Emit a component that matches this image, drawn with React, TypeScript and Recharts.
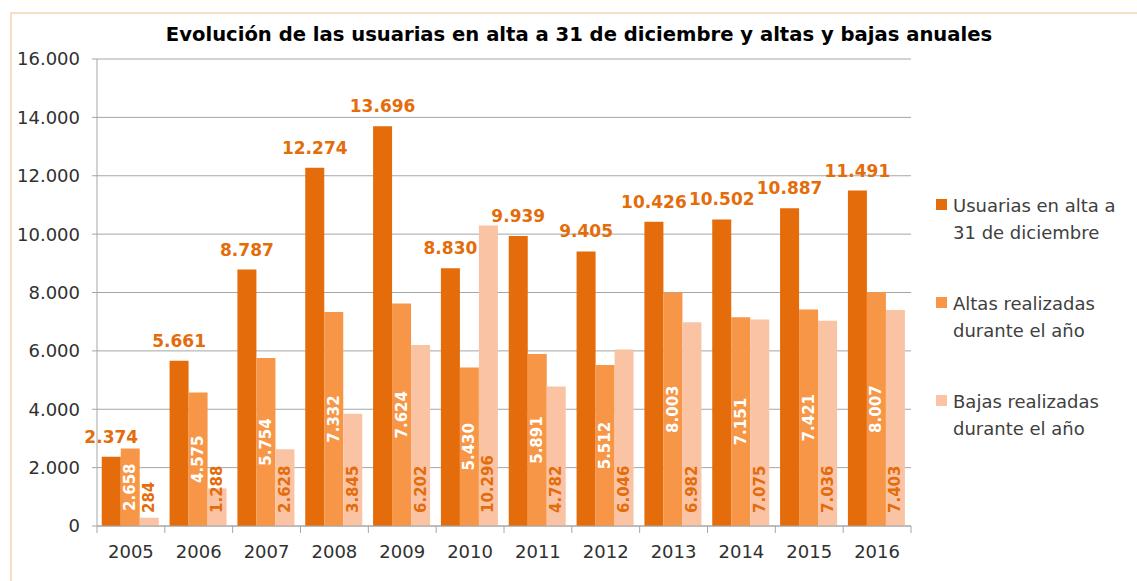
import React from "react";
import {
	Bar,
	BarChart,
	CartesianGrid,
	LabelList,
	XAxis,
	YAxis,
} from "recharts";

// values
const years = ["2005", "2006", "2007", "2008", "2009", "2010", "2011", "2012", "2013", "2014", "2015", "2016"];
const usuarias = [2374, 5661, 8787, 12274, 13696, 8830, 9939, 9405, 10426, 10502, 10887, 11491];
const altas = [2658, 4575, 5754, 7332, 7624, 5430, 5891, 5512, 8003, 7151, 7421, 8007];
const bajas = [284, 1288, 2628, 3845, 6202, 10296, 4782, 6046, 6982, 7075, 7036, 7403];
const yTicks = [0, 2000, 4000, 6000, 8000, 10000, 12000, 14000, 16000];

const seriesNames = [
	["Usuarias en alta a", "31 de diciembre"],
	["Altas realizadas", "durante el año"],
	["Bajas realizadas", "durante el año"],
];
const colors = ["#E46C0A", "#F79646", "#FAC3A4"];

const title = "Evolución de las usuarias en alta a 31 de diciembre y altas y bajas anuales";

const data = years.map((y, i) => ({
	year: y,
	usuarias: usuarias[i],
	altas: altas[i],
	bajas: bajas[i],
}));

const FONT = '"DejaVu Sans", sans-serif';
const W = 1137;
const H = 581;
const xAxisHeight = 30;
const margin = { top: 59, right: 226, bottom: 55 - xAxisHeight, left: 0 };
const yAxisWidth = 97;
const plotW = W - margin.left - margin.right - yAxisWidth;

const fmt = (v: number) => String(v).replace(/\B(?=(\d{3})+(?!\d))/g, ".");

const XTick = (props: any) => {
	const { x, y, payload, index } = props;
	const step = plotW / years.length;
	const top = y - 8;
	return (
		<g>
			<line x1={x - step / 2} x2={x - step / 2} y1={top} y2={top + 7} stroke="#A6A6A6" />
			{index === years.length - 1 && (
				<line x1={x + step / 2} x2={x + step / 2} y1={top} y2={top + 7} stroke="#A6A6A6" />
			)}
			<text x={x} y={top + 32} textAnchor="middle" fill="#303030" fontSize={18} fontFamily={FONT}>
				{payload.value}
			</text>
		</g>
	);
};

const AltasLabel = (props: any) => {
	const { x, y, width, height, value } = props;
	const cx = x + width / 2;
	const cy = y + height / 2;
	return (
		<text
			x={cx}
			y={cy}
			transform={`rotate(-90 ${cx} ${cy})`}
			textAnchor="middle"
			dominantBaseline="central"
			fill="#FFFFFF"
			fontSize={15}
			fontWeight="bold"
			fontFamily={FONT}>
			{fmt(value)}
		</text>
	);
};

const BajasLabel = (props: any) => {
	const { x, y, width, height, value } = props;
	const cx = x + width / 2;
	const cy = y + height - 13;
	return (
		<text
			x={cx}
			y={cy}
			transform={`rotate(-90 ${cx} ${cy})`}
			textAnchor="start"
			dominantBaseline="central"
			fill="#E46C0A"
			fontSize={15}
			fontWeight="bold"
			fontFamily={FONT}>
			{fmt(value)}
		</text>
	);
};

const App = () => {
	return (
		<div style={{ position: "absolute", left: 0, top: 0, width: W, height: H, background: "#fff", fontFamily: FONT }}>
			<div
				style={{
					position: "absolute",
					left: 10,
					top: 12,
					width: W - 10,
					height: H - 12,
					borderTop: "2px solid #FBDDC4",
					borderLeft: "2px solid #FBDDC4",
				}}
			/>
			<div
				style={{
					position: "absolute",
					left: 0,
					top: 23,
					width: 1158,
					textAlign: "center",
					fontSize: 19.6,
					fontWeight: "bold",
					color: "#000",
				}}>
				{title}
			</div>
			<div style={{ position: "absolute", left: 0, top: 0 }}>
				<BarChart width={W} height={H} data={data} margin={margin} barCategoryGap="7%" barGap={0}>
					<CartesianGrid vertical={false} stroke="#A6A6A6" />
					<XAxis
						dataKey="year"
						height={xAxisHeight}
						stroke="#A6A6A6"
						tickLine={false}
						tick={<XTick />}
						interval={0}
					/>
					<YAxis
						width={yAxisWidth}
						domain={[0, 16000]}
						ticks={yTicks}
						stroke="#A6A6A6"
						tickSize={5}
						tickMargin={12}
						tickFormatter={fmt}
						tick={{ fill: "#303030", fontSize: 18, fontFamily: FONT }}
					/>
					<Bar dataKey="usuarias" fill={colors[0]} isAnimationActive={false}>
						<LabelList
							dataKey="usuarias"
							position="top"
							offset={14}
							formatter={(v: any) => fmt(v)}
							fill="#E46C0A"
							fontSize={17}
							fontWeight="bold"
							fontFamily={FONT}
						/>
					</Bar>
					<Bar dataKey="altas" fill={colors[1]} isAnimationActive={false}>
						<LabelList dataKey="altas" content={<AltasLabel />} />
					</Bar>
					<Bar dataKey="bajas" fill={colors[2]} isAnimationActive={false}>
						<LabelList dataKey="bajas" content={<BajasLabel />} />
					</Bar>
				</BarChart>
			</div>
			<div style={{ position: "absolute", left: 936, top: 192, color: "#404040", fontSize: 18 }}>
				{seriesNames.map((lines, i) => (
					<div key={i} style={{ position: "relative", height: 98, paddingLeft: 17 }}>
						<span
							style={{
								position: "absolute",
								left: 0,
								top: 7,
								width: 11,
								height: 11,
								background: colors[i],
							}}
						/>
						<div style={{ lineHeight: "27px" }}>{lines[0]}</div>
						<div style={{ lineHeight: "27px" }}>{lines[1]}</div>
					</div>
				))}
			</div>
		</div>
	);
};

export default App;
